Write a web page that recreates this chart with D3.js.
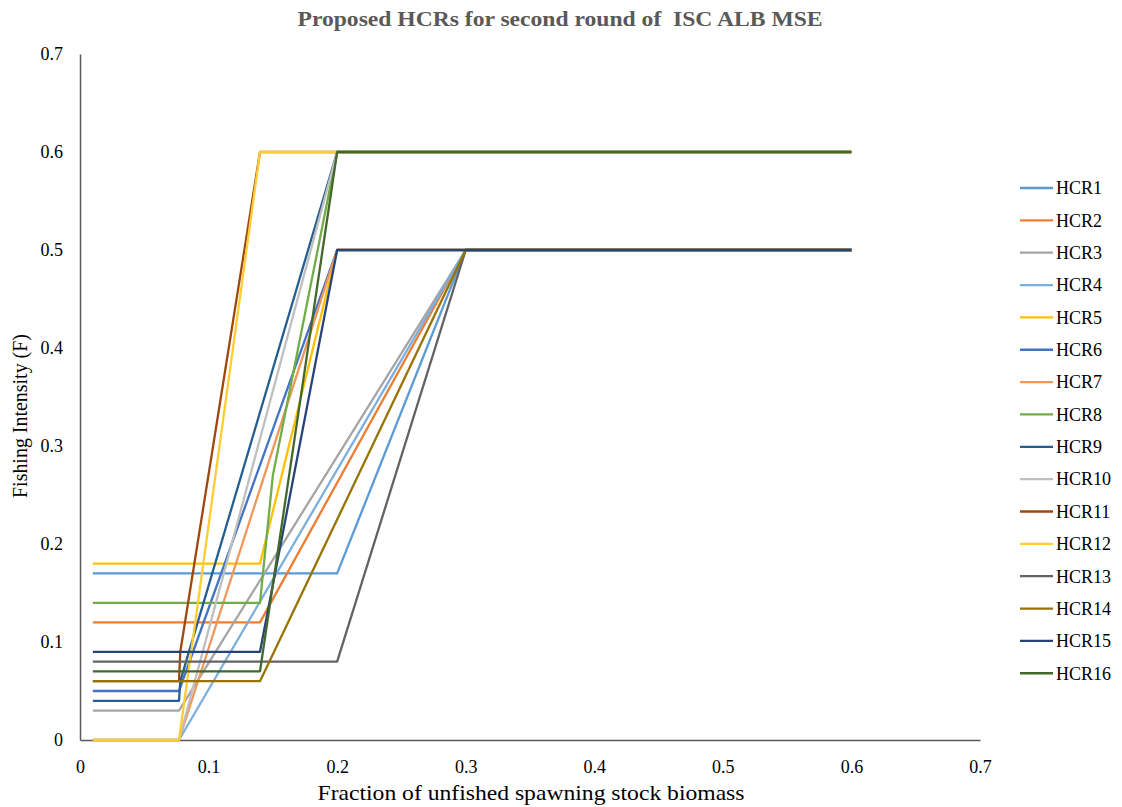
<!DOCTYPE html>
<html>
<head>
<meta charset="utf-8">
<script src="https://d3js.org/d3.v7.min.js"></script>
<style>
  html, body { margin: 0; padding: 0; background: #ffffff; }
  svg { display: block; }
</style>
</head>
<body>
<svg id="chart" width="1122" height="807"></svg>
<script>
// ---- data (fraction of unfished SSB, fishing intensity F) ----
const seriesNames = ["HCR1","HCR2","HCR3","HCR4","HCR5","HCR6","HCR7","HCR8",
                     "HCR9","HCR10","HCR11","HCR12","HCR13","HCR14","HCR15","HCR16"];
const hcr1  = [[0.01,0.17],[0.2,0.17],[0.3,0.5],[0.6,0.5]];
const hcr2  = [[0.01,0.12],[0.14,0.12],[0.3,0.5],[0.6,0.5]];
const hcr3  = [[0.01,0.03],[0.077,0.03],[0.3,0.5],[0.6,0.5]];
const hcr4  = [[0.01,0],[0.077,0],[0.3,0.5],[0.6,0.5]];
const hcr5  = [[0.01,0.18],[0.14,0.18],[0.2,0.5],[0.6,0.5]];
const hcr6  = [[0.01,0.05],[0.077,0.05],[0.2,0.5],[0.6,0.5]];
const hcr7  = [[0.01,0],[0.077,0],[0.2,0.5],[0.6,0.5]];
const hcr8  = [[0.01,0.14],[0.14,0.14],[0.15,0.27],[0.2,0.6],[0.6,0.6]];
const hcr9  = [[0.01,0.04],[0.077,0.04],[0.078,0.06],[0.2,0.6],[0.6,0.6]];
const hcr10 = [[0.01,0],[0.077,0],[0.2,0.6],[0.6,0.6]];
const hcr11 = [[0.01,0.06],[0.077,0.06],[0.078,0.09],[0.14,0.6],[0.6,0.6]];
const hcr12 = [[0.01,0],[0.077,0],[0.14,0.6],[0.6,0.6]];
const hcr13 = [[0.01,0.08],[0.2,0.08],[0.3,0.5],[0.6,0.5]];
const hcr14 = [[0.01,0.06],[0.14,0.06],[0.3,0.5],[0.6,0.5]];
const hcr15 = [[0.01,0.09],[0.14,0.09],[0.2,0.5],[0.6,0.5]];
const hcr16 = [[0.01,0.07],[0.14,0.07],[0.2,0.6],[0.6,0.6]];
const seriesValues = [hcr1,hcr2,hcr3,hcr4,hcr5,hcr6,hcr7,hcr8,
                      hcr9,hcr10,hcr11,hcr12,hcr13,hcr14,hcr15,hcr16];
const xTicks = [0,0.1,0.2,0.3,0.4,0.5,0.6,0.7];
const yTicks = [0,0.1,0.2,0.3,0.4,0.5,0.6,0.7];
const tickLabels = ["0","0.1","0.2","0.3","0.4","0.5","0.6","0.7"];

// ---- styles ----
const colors = ["#5B9BD5","#ED7D31","#A5A5A5","#7CAFDD","#FFC000","#4472C4","#F1975A","#70AD47",
                "#255E91","#BFBFBF","#9E480E","#FFCD33","#636363","#997300","#264478","#43682B"];
const serif = "Liberation Serif, Times New Roman, serif";

const svg = d3.select("#chart");
const x = d3.scaleLinear().domain([0, 0.7]).range([80, 980]);
const y = d3.scaleLinear().domain([0, 0.7]).range([740, 54]);

// title
svg.append("text")
  .attr("x", 560).attr("y", 26)
  .attr("text-anchor", "middle")
  .attr("font-family", serif).attr("font-weight", "bold")
  .attr("font-size", 20).attr("fill", "#595959")
  .attr("textLength", 525).attr("lengthAdjust", "spacingAndGlyphs")
  .style("white-space", "pre")
  .text("Proposed HCRs for second round of  ISC ALB MSE");

// axes
const xAxis = d3.axisBottom(x).tickValues(xTicks).tickSize(0).tickPadding(0)
  .tickFormat((d, i) => tickLabels[i]);
const yAxis = d3.axisLeft(y).tickValues(yTicks).tickSize(0).tickPadding(0)
  .tickFormat((d, i) => tickLabels[i]);

const gx = svg.append("g").attr("transform", `translate(0,${y(0)})`).call(xAxis)
  .attr("font-family", serif).attr("font-size", 18);
gx.select(".domain").attr("stroke", "#595959").attr("stroke-width", 1.5);
gx.selectAll(".tick text")
  .style("font-family", serif).style("font-size", "18px").attr("fill", "#000")
  .attr("dy", 0).attr("y", 33);

const gy = svg.append("g").attr("transform", `translate(${x(0)},0)`).call(yAxis)
  .attr("font-family", serif).attr("font-size", 18);
gy.select(".domain").attr("stroke", "#595959").attr("stroke-width", 1.5);
gy.selectAll(".tick text")
  .style("font-family", serif).style("font-size", "18px").attr("fill", "#000")
  .attr("x", -17).attr("dy", "0.32em");

// axis titles
svg.append("text")
  .attr("x", 531).attr("y", 800)
  .attr("text-anchor", "middle")
  .attr("font-family", serif).attr("font-size", 21).attr("fill", "#000")
  .attr("textLength", 427).attr("lengthAdjust", "spacingAndGlyphs")
  .text("Fraction of unfished spawning stock biomass");

svg.append("text")
  .attr("transform", "translate(27,416) rotate(-90)")
  .attr("text-anchor", "middle")
  .attr("font-family", serif).attr("font-size", 21).attr("fill", "#000")
  .attr("textLength", 164).attr("lengthAdjust", "spacingAndGlyphs")
  .text("Fishing Intensity (F)");

// lines
const line = d3.line().x(d => x(d[0])).y(d => y(d[1]));
svg.append("g").selectAll("path")
  .data(seriesValues)
  .join("path")
  .attr("d", line)
  .attr("fill", "none")
  .attr("stroke", (d, i) => colors[i])
  .attr("stroke-width", 2.3)
  .attr("stroke-linejoin", "round");

// legend
const leg = svg.append("g");
const rows = leg.selectAll("g").data(seriesNames).join("g")
  .attr("transform", (d, i) => `translate(1020,${188 + i * 32.35})`);
rows.append("line")
  .attr("x1", 0).attr("x2", 33).attr("y1", 0).attr("y2", 0)
  .attr("stroke", (d, i) => colors[i]).attr("stroke-width", 2.3);
rows.append("text")
  .attr("x", 36).attr("y", 0).attr("dy", "0.35em")
  .attr("font-family", serif).attr("font-size", 18).attr("fill", "#000")
  .text(d => d);
</script>
</body>
</html>
